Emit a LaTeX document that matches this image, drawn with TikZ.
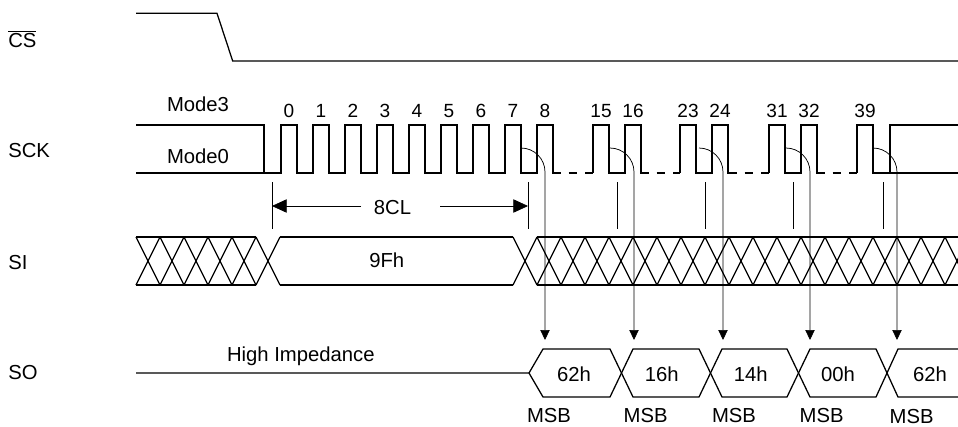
\documentclass[tikz,border=0pt]{standalone}
\usepackage{fontspec}
\setmainfont{Liberation Sans}
\usetikzlibrary{arrows.meta}
\begin{document}
\begin{tikzpicture}[x=0.75pt,y=-0.75pt,
  sig/.style={line width=0.95pt,line join=miter},
  thinline/.style={line width=0.55pt},
  dashlow/.style={line width=0.95pt,dash pattern=on 6.5pt off 6pt,dash phase=6pt},
  lbl/.style={font=\fontsize{15.2}{18}\selectfont,inner sep=0pt,anchor=base},
  num/.style={font=\fontsize{14.3}{17}\selectfont,inner sep=0pt,anchor=base},
  tipS/.style={-{Triangle[length=7.5pt,width=7pt]}},
  tipL/.style={-{Triangle[length=11pt,width=10pt]}}]
\useasboundingbox (0,0) rectangle (958,426);

% ---------- signal names ----------
\node[lbl,anchor=base west] (lcs) at (8,47) {$\overline{\mbox{CS}}$};
\node[lbl,anchor=base west] (lsck) at (8,157) {SCK};
\node[lbl,anchor=base west] (lsi) at (8,269) {SI};
\node[lbl,anchor=base west] (lso) at (8,379) {SO};

% ---------- CS ----------
\draw[sig] (136,13.3) -- (217,13.3) -- (232.7,61) -- (958,61);

% ---------- SCK ----------
\node[lbl] (m3) at (198,111) {Mode3};
\node[lbl] (m0) at (198,163) {Mode0};
\draw[sig] (136,173) -- (264,173);
\draw[sig] (136,125) -- (264,125) -- (264,173) -- (281,173)
  \foreach \k in {0,...,7} { -- ({281+32*\k},125) -- ({297+32*\k},125) -- ({297+32*\k},173) -- ({313+32*\k},173) }
  -- (537,125) -- (553,125) -- (553,173) -- (560,173);
\draw[dashlow] (560,173) -- (593,173);
\draw[sig] (593,173) -- (593,125) -- (609,125) -- (609,173) -- (625,173) -- (625,125) -- (641,125) -- (641,173) -- (648,173);
\draw[dashlow] (648,173) -- (680,173);
\draw[sig] (680,173) -- (680,125) -- (696,125) -- (696,173) -- (712,173) -- (712,125) -- (728,125) -- (728,173) -- (736,173);
\draw[dashlow] (736,173) -- (769,173);
\draw[sig] (769,173) -- (769,125) -- (785,125) -- (785,173) -- (801,173) -- (801,125) -- (817,125) -- (817,173) -- (824,173);
\draw[dashlow] (824,173) -- (857,173);
\draw[sig] (857,173) -- (857,125) -- (873,125) -- (873,173) -- (890,173) -- (890,125) -- (958,125);
\draw[sig] (890,173) -- (958,173);

% clock numbers
\foreach \k in {0,...,8} { \node[num] (n\k) at ({289+32*\k},117) {\k}; }
\node[num] (n15) at (601,117) {15};
\node[num] (n16) at (633,117) {16};
\node[num] (n23) at (688,117) {23};
\node[num] (n24) at (720,117) {24};
\node[num] (n31) at (777,117) {31};
\node[num] (n32) at (809,117) {32};
\node[num] (n39) at (865,117) {39};

% ---------- timing ticks and 8CL ----------
\foreach \x/\n in {272/a,528/b,617/c,705/d,793/e,883/f} {
  \coordinate (tk\n1) at (\x,182);
  \coordinate (tk\n2) at (\x,229);
  \draw[thinline] (tk\n1) -- (tk\n2);
}
\node[lbl] (cl) at (392.5,214) {8CL};
\coordinate (clL) at (272,206);
\coordinate (clR) at (528,206);
\coordinate (clLs) at (361,206);
\coordinate (clRs) at (440,206);
\draw[thinline,tipL] (clLs) -- (clL);
\draw[thinline,tipL] (clRs) -- (clR);

% ---------- SI ----------
\draw[sig] (136,237) -- (256,237);
\draw[sig] (136,285) -- (256,285);
\foreach \i in {0,...,5} {
  \draw[sig] ({136+24*\i},237) -- ({160+24*\i},285);
  \draw[sig] ({136+24*\i},285) -- ({160+24*\i},237);
}
\draw[sig] (280,237) -- (513,237);
\draw[sig] (280,285) -- (513,285);
\draw[sig] (513,237) -- (537,285);
\draw[sig] (513,285) -- (537,237);
\node[lbl] (d9f) at (386.8,267) {9Fh};
\begin{scope}
  \clip (530,230) rectangle (958,292);
  \draw[sig] (537,237) -- (958,237);
  \draw[sig] (537,285) -- (958,285);
  \foreach \i in {0,...,17} {
    \draw[sig] ({537+24*\i},237) -- ({561+24*\i},285);
    \draw[sig] ({537+24*\i},285) -- ({561+24*\i},237);
  }
\end{scope}

% ---------- clock-to-output arrows ----------
\foreach \s/\n in {521/a,610/b,699/c,786/d,873/e} {
  \coordinate (ar\n0) at (\s,148);
  \coordinate (ar\n1) at ({\s+24},172);
  \coordinate (ar\n2) at ({\s+24},340);
  \draw[thinline,tipS] (ar\n0) .. controls ({\s+13.25},148) and ({\s+24},158.75) .. (ar\n1) -- (ar\n2);
}

% ---------- SO ----------
\node[lbl] (hi) at (300.8,361) {High Impedance};
\draw[sig] (136,373) -- (529,373) -- (543,349) -- (610,349) -- (633,397) -- (699,397) -- (722,349) -- (787,349) -- (810,397) -- (876,397) -- (898,349) -- (958,349);
\draw[sig] (529,373) -- (543,397) -- (610,397) -- (633,349) -- (699,349) -- (722,397) -- (787,397) -- (810,349) -- (876,349) -- (898,397) -- (958,397);
\node[lbl] (o1) at (574,381) {62h};
\node[lbl] (o2) at (661.7,381) {16h};
\node[lbl] (o3) at (750.7,381) {14h};
\node[lbl] (o4) at (838,381) {00h};
\node[lbl] (o5) at (930,381) {62h};
\node[lbl] (b1) at (549,422) {MSB};
\node[lbl] (b2) at (645.7,422) {MSB};
\node[lbl] (b3) at (734,422) {MSB};
\node[lbl] (b4) at (821.7,422) {MSB};
\node[lbl] (b5) at (911.7,423) {MSB};
\end{tikzpicture}
\end{document}
